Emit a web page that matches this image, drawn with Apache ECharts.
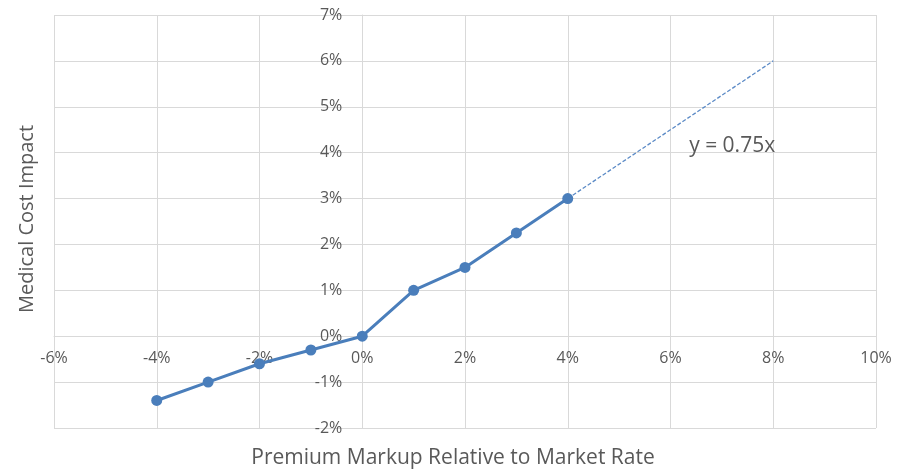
<!DOCTYPE html>
<html>
<head>
<meta charset="utf-8">
<script src="https://cdn.jsdelivr.net/npm/echarts@6/dist/echarts.min.js"></script>
<style>
  html, body { margin: 0; padding: 0; background: #fff; }
  #chart { width: 906px; height: 472px; }
</style>
</head>
<body>
<div id="chart"></div>
<script>
// markup (%) vs medical cost impact (%)
const markup = [-4, -3, -2, -1, 0, 1, 2, 3, 4]
const costImpact = [-1.4, -1.0, -0.6, -0.3, 0, 1.0, 1.5, 2.25, 3.0]
// trendline y = 0.75x, drawn from last point out to 8%
const trendX = [4, 8]
const trendY = [3, 6]
const trendLabel = "y = 0.75x"
const xTitle = "Premium Markup Relative to Market Rate"
const yTitle = "Medical Cost Impact"

const chart = echarts.init(document.getElementById("chart"))
const font = "Open Sans, sans-serif"
const labelFont = { color: "#595959", fontSize: 16, fontFamily: font }
const gridLine = { lineStyle: { color: "#d9d9d9", width: 1 } }

// axes cross at 0,0 - shift them in from the grid edges
const xMin = -6, xMax = 10, yMin = -2, yMax = 7
const grid = { left: 54, right: 30, top: 15, bottom: 44 }
const gridW = 906 - grid.left - grid.right
const gridH = 472 - grid.top - grid.bottom
const yAxisOffset = -gridW * (0 - xMin) / (xMax - xMin)
const xAxisOffset = -gridH * (0 - yMin) / (yMax - yMin)

chart.setOption({
  animation: false,
  grid: grid,
  xAxis: {
    type: "value",
    min: xMin, max: xMax, interval: 2,
    offset: xAxisOffset,
    axisLine: { show: true, onZero: false, lineStyle: { color: "#d9d9d9" } },
    axisTick: { show: false },
    axisLabel: { ...labelFont, margin: 14, formatter: "{value}%" },
    splitLine: { show: true, ...gridLine },
  },
  yAxis: {
    type: "value",
    min: yMin, max: yMax, interval: 1,
    offset: yAxisOffset,
    axisLine: { show: true, onZero: false, lineStyle: { color: "#d9d9d9" } },
    axisTick: { show: false },
    axisLabel: { ...labelFont, margin: 20, formatter: "{value}%" },
    splitLine: { show: true, ...gridLine },
  },
  graphic: [
    {
      type: "text", left: "center", top: 448,
      style: { text: xTitle, fill: "#595959", fontSize: 21, fontFamily: font },
    },
    {
      type: "text", x: 27, y: 219, rotation: Math.PI / 2,
      style: { text: yTitle, fill: "#595959", fontSize: 20, fontFamily: font, align: "center", verticalAlign: "middle" },
    },
  ],
  series: [
    {
      type: "line",
      data: trendX.map((x, i) => [x, trendY[i]]),
      symbol: "none",
      lineStyle: { color: "#5b8ac6", width: 1.3, type: [4, 2] },
      z: 1,
      markPoint: {
        symbol: "circle", symbolSize: 0,
        data: [{ coord: [7.2, 4.15], value: trendLabel }],
        label: { show: true, formatter: trendLabel, color: "#595959", fontSize: 21, fontFamily: font },
      },
    },
    {
      type: "line",
      data: markup.map((x, i) => [x, costImpact[i]]),
      symbol: "circle",
      symbolSize: 11,
      itemStyle: { color: "#4a7ebb" },
      lineStyle: { color: "#4a7ebb", width: 3 },
      z: 3,
    },
  ],
})
</script>
</body>
</html>
